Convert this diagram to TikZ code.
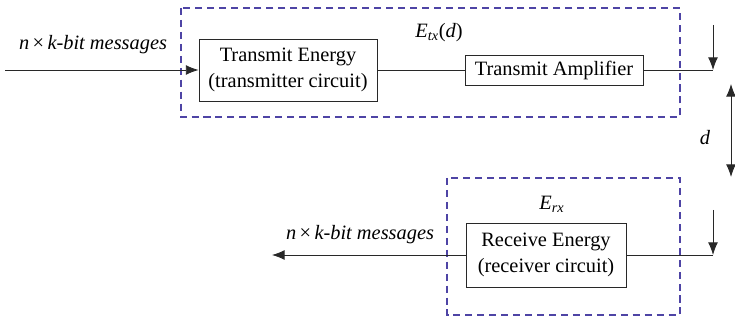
\documentclass[tikz,border=0pt]{standalone}
\usepackage{fontspec}
\setmainfont{Liberation Serif}
\usepackage{tikz}
\usetikzlibrary{arrows.meta}

\definecolor{boxblue}{RGB}{78,68,165}
\definecolor{wire}{RGB}{40,40,40}

\tikzset{
  >={Latex[length=9pt,width=7pt]},
  block/.style={draw=wire,line width=0.6pt,align=center,inner sep=2pt},
  group/.style={draw=boxblue,line width=1pt,dash pattern=on 5pt off 3.5pt},
}

\begin{document}
\begin{tikzpicture}[x=0.025cm,y=-0.025cm,font=\rmfamily\fontsize{14.5}{18}\selectfont,line width=0.6pt]
            \useasboundingbox (0,0) rectangle (735,320);

            % dashed groups
            \draw [group] (181,8) rectangle (680,117);
            \draw [group] (447,178) rectangle (680,315);

            % blocks
            \node [block,minimum width=4.45cm,minimum height=1.55cm] (txenergy) at (288,70) {Transmit Energy\\(transmitter circuit)};
            \node [block,minimum width=4.45cm,minimum height=0.75cm] (txamp) at (554,70) {Transmit Amplifier};
            \node [block,minimum width=4.0cm,minimum height=1.6cm] (rxenergy) at (546,255) {Receive Energy\\(receiver circuit)};

            \coordinate (txin) at (5,70);
            \coordinate (txout) at (713,70);
            \coordinate (txtop) at (713,25);
            \coordinate (rxin) at (713,255);
            \coordinate (rxtop) at (713,210);
            \coordinate (rxout) at (272,255);
            \coordinate (dtop) at (731,84);
            \coordinate (dbot) at (731,177);

            % labels
            \node (msgin) at (93,45) {\textit{n}\,×\,\textit{k-bit messages}};
            \node (msgout) at (360,235) {\textit{n}\,×\,\textit{k-bit messages}};
            \node (etx) at (439,33) {\textit{E}\textsubscript{\textit{tx}}(\textit{d})};
            \node (erx) at (552,204) {\textit{E}\textsubscript{\textit{rx}}};
            \node (dist) at (705,138) {\textit{d}};

            % signal lines
            \draw [->,wire] (txin) -- (txenergy);
            \draw [-,wire] (txenergy) -- (txamp);
            \draw [-,wire] (txamp.east) -- (txout);
            \draw [->,wire] (txtop) -- (txout);
            \draw [<->,wire] (dtop) -- (dbot);
            \draw [->,wire] (rxtop) -- (rxin);
            \draw [-,wire] (rxin) -- (rxenergy.east);
            \draw [->,wire] (rxenergy.west) -- (rxout);
        \end{tikzpicture}
\end{document}
